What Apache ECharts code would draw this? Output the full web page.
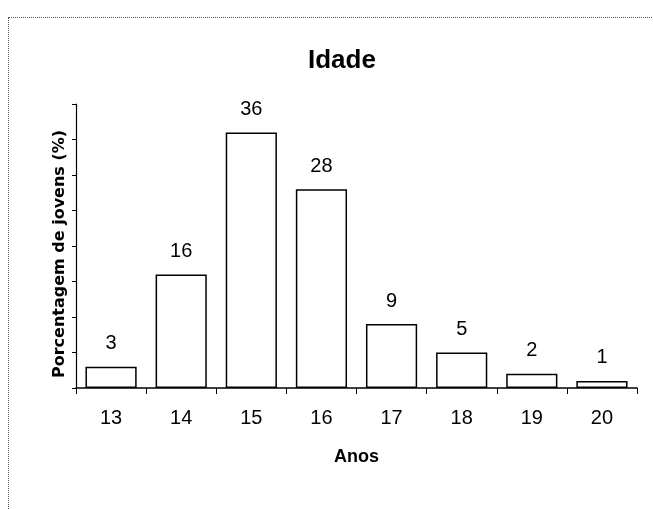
<!DOCTYPE html>
<html><head><meta charset="utf-8">
<script src="https://cdn.jsdelivr.net/npm/echarts@6/dist/echarts.min.js"></script>
<style>html,body{margin:0;padding:0;background:#fff}#c{width:653px;height:509px}
#b{position:absolute;left:8px;top:17px;width:700px;height:600px;border:1px dotted #555;pointer-events:none}</style>
</head><body><div id="c"></div><div id="b"></div>
<script>
const categories = ['13','14','15','16','17','18','19','20'];
const values = [3, 16, 36, 28, 9, 5, 2, 1];
const chart = echarts.init(document.getElementById('c'));
chart.setOption({
  animation: false,
  textStyle: { fontFamily: 'Liberation Sans, Arial, sans-serif' },
  title: { text: 'Idade', left: 303, top: 43, textStyle: { fontSize: 26, fontWeight: 'bold', color: '#000', fontFamily: 'Liberation Sans' } },
  grid: { left: 76, right: 16, top: 104, bottom: 121 },
  xAxis: {
    type: 'category', data: categories,
    name: 'Anos', nameLocation: 'middle', nameGap: 60,
    nameTextStyle: { fontSize: 18, fontWeight: 'bold', color: '#000' },
    axisLine: { lineStyle: { color: '#000', width: 1.5 } },
    axisTick: { show: true, length: 6, lineStyle: { color: '#000' } },
    axisLabel: { fontSize: 20, color: '#000', margin: 20 }
  },
  yAxis: {
    type: 'value', min: 0, max: 40, interval: 5,
    name: 'Porcentagem de jovens (%)', nameLocation: 'middle', nameGap: 8,
    nameTextStyle: { fontSize: 16, fontWeight: 'bold', color: '#000', fontFamily: 'DejaVu Sans', padding: [0, 16, 0, 0] },
    axisLine: { show: true, lineStyle: { color: '#000', width: 1.2 } },
    axisTick: { show: true, length: 4, lineStyle: { color: '#000' } },
    axisLabel: { show: false },
    splitLine: { show: false }
  },
  series: [{
    type: 'bar', data: values, barCategoryGap: '27%',
    itemStyle: { color: '#fff', borderColor: '#000', borderWidth: 1.5 },
    label: { show: true, position: 'top', distance: 13, fontSize: 20, color: '#000' }
  }]
});
</script></body></html>
